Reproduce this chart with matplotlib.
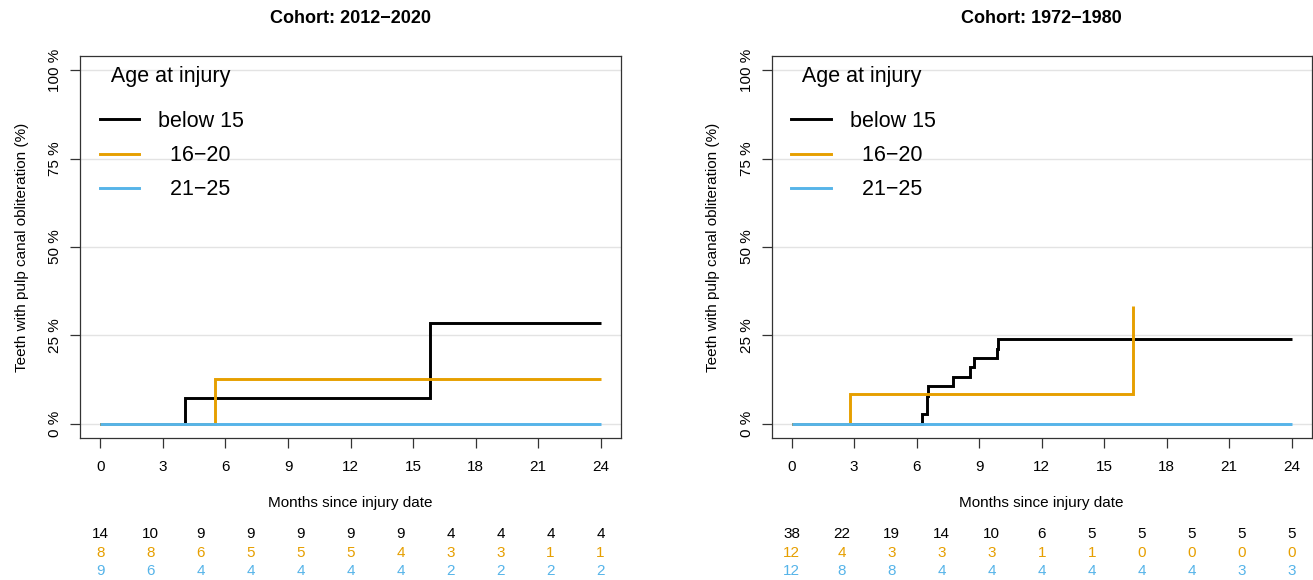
import matplotlib
matplotlib.use("Agg")
import matplotlib.pyplot as plt
from matplotlib.lines import Line2D

plt.rcParams['font.family'] = ['Liberation Sans', 'DejaVu Sans']

# colours per age group
c_black = "#000000"
c_orange = "#E69F00"
c_blue = "#56B4E9"

groups = ["below 15", "  16\u221220", "  21\u221225"]

# cohort 2012-2020 (left)
l_black_t = [0, 4.07, 15.83, 24]
l_black_y = [0, 7.14, 28.6, 28.6]
l_orange_t = [0, 5.5, 24]
l_orange_y = [0, 12.5, 12.5]
l_blue_t = [0, 24]
l_blue_y = [0, 0]

# cohort 1972-1980 (right)
r_black_t = [0, 6.24, 6.48, 6.55, 7.76, 8.56, 8.77, 9.84, 9.92, 24]
r_black_y = [0, 2.63, 7.89, 10.53, 13.2, 15.9, 18.6, 21.2, 23.8, 23.8]
r_orange_t = [0, 2.8, 16.37]
r_orange_y = [0, 8.33, 33.3]
r_blue_t = [0, 24]
r_blue_y = [0, 0]

# numbers at risk
risk_times = [0, 2.4, 4.8, 7.2, 9.6, 12, 14.4, 16.8, 19.2, 21.6, 24]
l_risk_black = [14, 10, 9, 9, 9, 9, 9, 4, 4, 4, 4]
l_risk_orange = [8, 8, 6, 5, 5, 5, 4, 3, 3, 1, 1]
l_risk_blue = [9, 6, 4, 4, 4, 4, 4, 2, 2, 2, 2]
r_risk_black = [38, 22, 19, 14, 10, 6, 5, 5, 5, 5, 5]
r_risk_orange = [12, 4, 3, 3, 3, 1, 1, 0, 0, 0, 0]
r_risk_blue = [12, 8, 8, 4, 4, 4, 4, 4, 4, 3, 3]

xticks = [0, 3, 6, 9, 12, 15, 18, 21, 24]
yticks = [0, 25, 50, 75, 100]

fig = plt.figure(figsize=(13.13, 5.8), dpi=100)
ax1 = fig.add_axes([0.0613, 0.2453, 0.4113, 0.6581])
ax2 = fig.add_axes([0.5877, 0.2453, 0.4113, 0.6581])


def panel(ax, title, curves, risks):
    for yv in yticks:
        ax.axhline(yv, color="#E3E3E3", lw=1.0, zorder=0)
    for (t, y), col in zip(curves, [c_black, c_orange, c_blue]):
        ax.step(t, y, where="post", color=col, lw=2.1, solid_capstyle="butt",
                solid_joinstyle="miter")
    ax.set_xlim(-0.96, 24.96)
    ax.set_ylim(-4, 104)
    ax.set_xticks(xticks)
    ax.set_yticks(yticks)
    ax.set_yticklabels([f"{v} %" for v in yticks], rotation=90, va="center")
    ax.tick_params(axis="both", length=7, width=0.9, color="#333333",
                   labelsize=11, direction="out")
    ax.tick_params(axis="y", pad=6)
    ax.tick_params(axis="x", pad=9)
    for s in ax.spines.values():
        s.set_color("#333333")
        s.set_linewidth(0.9)
    ax.set_ylabel("Teeth with pulp canal obliteration (%)", fontsize=11,
                  labelpad=14)
    ax.text(0.5, 1.099, title, transform=ax.transAxes, ha="center",
            va="center", fontsize=13, weight="bold")
    ax.text(0.5, -0.171, "Months since injury date", transform=ax.transAxes,
            ha="center", va="center", fontsize=11)
    tr = ax.get_xaxis_transform()
    for vals, col, yy in zip(risks, [c_black, c_orange, c_blue],
                             [-0.252, -0.302, -0.349]):
        for x, v in zip(risk_times, vals):
            ax.text(x, yy, str(v), transform=tr, ha="center", va="center",
                    color=col, fontsize=11, clip_on=False)
    handles = [Line2D([], [], color=c, lw=2.1) for c in [c_black, c_orange, c_blue]]
    leg = ax.legend(handles, groups, title="  Age at injury", loc="upper left",
                    bbox_to_anchor=(0.0075, 1.013), frameon=False, fontsize=15.5,
                    title_fontsize=15.5, handlelength=1.85, handletextpad=0.88,
                    labelspacing=0.62, alignment="left", borderaxespad=0.3)
    leg._legend_box.sep = 17


panel(ax1, "Cohort: 2012\u22122020",
      [(l_black_t, l_black_y), (l_orange_t, l_orange_y), (l_blue_t, l_blue_y)],
      [l_risk_black, l_risk_orange, l_risk_blue])
panel(ax2, "Cohort: 1972\u22121980",
      [(r_black_t, r_black_y), (r_orange_t, r_orange_y), (r_blue_t, r_blue_y)],
      [r_risk_black, r_risk_orange, r_risk_blue])

fig.savefig("out.png", dpi=100)
